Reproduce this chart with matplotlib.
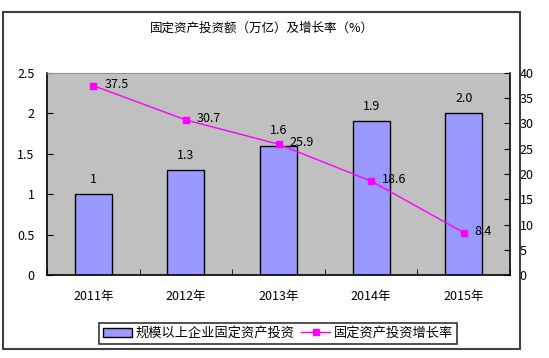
import matplotlib
matplotlib.use("Agg")
import matplotlib.pyplot as plt
from matplotlib.patches import Rectangle
from matplotlib.lines import Line2D
import numpy as np

plt.rcParams['font.family'] = ['Noto Sans CJK SC', 'DejaVu Sans']

categories = ["2011年", "2012年", "2013年", "2014年", "2015年"]
invest = [1.0, 1.3, 1.6, 1.9, 2.0]
invest_labels = ["1", "1.3", "1.6", "1.9", "2.0"]
growth = [37.5, 30.7, 25.9, 18.6, 8.4]
growth_labels = ["37.5", "30.7", "25.9", "18.6", "8.4"]
left_ticks = [0, 0.5, 1, 1.5, 2, 2.5]
left_tick_labels = ["0", "0.5", "1", "1.5", "2", "2.5"]
right_ticks = [0, 5, 10, 15, 20, 25, 30, 35, 40]
title = "固定资产投资额（万亿）及增长率（%）"
bar_name = "规模以上企业固定资产投资"
line_name = "固定资产投资增长率"

W, H = 549, 358
fig = plt.figure(figsize=(W / 100, H / 100), dpi=100)
fig.patch.set_facecolor("white")

# outer frame
fig.add_artist(Rectangle((3 / W, 1 - 349 / H), (520 - 3) / W, (349 - 12) / H,
                         transform=fig.transFigure, fill=False,
                         edgecolor="#404040", linewidth=1.5))

ax = fig.add_axes([47 / W, 1 - 275 / H, (510 - 47) / W, (275 - 73) / H])
ax.set_facecolor("#c0c0c0")
x = np.arange(len(categories))
bars = ax.bar(x, invest, width=0.4, color="#9999ff", edgecolor="black", linewidth=1, zorder=2)
ax.set_xlim(-0.5, len(categories) - 0.5)
ax.set_ylim(0, 2.5)
ax.set_yticks(left_ticks)
ax.set_yticklabels(left_tick_labels)
ax.set_xticks(x)
ax.set_xticklabels(categories)
ax.set_xticks(np.arange(len(categories) + 1) - 0.5, minor=True)
ax.tick_params(axis='x', which='major', length=0, pad=11, labelsize=9)
ax.tick_params(axis='x', which='minor', length=4, direction='in', color='black')
ax.tick_params(axis='y', direction='in', length=4, pad=9, labelsize=9)
for s in ['left', 'bottom']:
    ax.spines[s].set_color('black')
    ax.spines[s].set_linewidth(1.2)
ax.spines['top'].set_color('#909090')
ax.spines['right'].set_color('black')
ax.spines['right'].set_linewidth(1.2)

for xi, v, lab in zip(x, invest, invest_labels):
    ax.annotate(lab, (xi, v), xytext=(0, 6), textcoords='offset points',
                ha='center', va='bottom', fontsize=9)

ax2 = ax.twinx()
ax2.set_ylim(0, 40)
ax2.set_yticks(right_ticks)
ax2.tick_params(axis='y', direction='in', length=4, pad=7, labelsize=9)
ax2.plot(x, growth, color="#ff00ff", linewidth=1, marker='s', markersize=5,
         markerfacecolor="#ff00ff", markeredgecolor="#ff00ff", zorder=3)
for xi, v, lab in zip(x, growth, growth_labels):
    ax2.annotate(lab, (xi, v), xytext=(8, 1), textcoords='offset points',
                 ha='left', va='center', fontsize=9)
for s in ['left', 'right', 'bottom', 'top']:
    ax2.spines[s].set_visible(False)

fig.text(262 / W, 1 - 28 / H, title, ha='center', va='center', fontsize=9)

handles = [Rectangle((0, 0), 1, 1, facecolor="#9999ff", edgecolor="black", linewidth=1),
           Line2D([0], [0], color="#ff00ff", linewidth=1, marker='s', markersize=5)]
leg = fig.legend(handles, [bar_name, line_name], ncol=2,
                 loc='center', bbox_to_anchor=(278 / W, 1 - 333.5 / H),
                 frameon=True, fancybox=False, edgecolor='black', fontsize=9.5,
                 handlelength=2.2, handletextpad=0.3, columnspacing=0.5,
                 borderpad=0.3, borderaxespad=0)
leg.get_frame().set_linewidth(1.2)

fig.savefig("out.png", dpi=100)
